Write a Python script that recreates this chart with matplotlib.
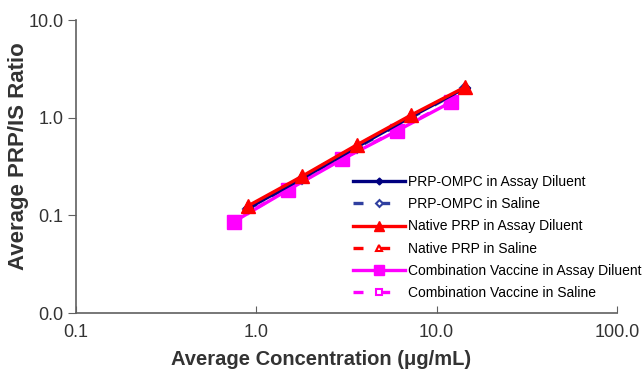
import matplotlib
matplotlib.use("Agg")
import matplotlib.pyplot as plt
from matplotlib.ticker import FixedLocator, FixedFormatter, NullLocator

plt.rcParams['font.family'] = ['Liberation Sans', 'DejaVu Sans']

# Data
ompc_x = [0.9, 1.8, 3.6, 7.2, 14.4]
ompc_diluent = [0.118, 0.240, 0.50, 1.02, 2.02]
ompc_saline = [0.116, 0.236, 0.49, 1.00, 2.00]

native_x = [0.9, 1.8, 3.6, 7.2, 14.4]
native_diluent = [0.125, 0.252, 0.525, 1.06, 2.06]
native_saline = [0.122, 0.248, 0.515, 1.04, 2.03]

combo_x = [0.75, 1.5, 3.0, 6.0, 12.0]
combo_diluent = [0.086, 0.182, 0.375, 0.73, 1.44]
combo_saline = [0.087, 0.184, 0.38, 0.74, 1.46]

x_ticks = [0.1, 1.0, 10.0, 100.0]
x_tick_labels = ["0.1", "1.0", "10.0", "100.0"]
y_ticks = [0.01, 0.1, 1.0, 10.0]
y_tick_labels = ["0.0", "0.1", "1.0", "10.0"]

navy = "#000080"
red = "#FF0000"
mag = "#FF00FF"

fig = plt.figure(figsize=(6.43, 3.71), dpi=100)
ax = fig.add_axes([76/643, 1 - 313/371, (617-76)/643, (313-20)/371])

lw = 2.4
dash = (0, (3, 5))
# saline series (dashed, open markers)
ax.plot(ompc_x, ompc_saline, ls=dash, color="#3040A0", lw=lw, marker='D',
        ms=5, mfc='white', mec="#3040A0", mew=1.5, label="PRP-OMPC in Saline", zorder=2)
ax.plot(native_x, native_saline, ls=dash, color=red, lw=lw, marker='^',
        ms=7, mfc='white', mec=red, mew=1.5, label="Native PRP in Saline", zorder=2)
ax.plot(combo_x, combo_saline, ls=dash, color=mag, lw=lw, marker='s',
        ms=7, mfc='white', mec=mag, mew=1.5, label="Combination Vaccine in Saline", zorder=2)

# assay diluent series (solid, filled markers)
ax.plot(ompc_x, ompc_diluent, '-', color=navy, lw=lw, marker='D', ms=5,
        label="PRP-OMPC in Assay Diluent", zorder=4)
ax.plot(native_x, native_diluent, '-', color=red, lw=lw, marker='^', ms=10,
        label="Native PRP in Assay Diluent", zorder=5)
ax.plot(combo_x, combo_diluent, '-', color=mag, lw=lw, marker='s', ms=10,
        label="Combination Vaccine in Assay Diluent", zorder=3)

ax.set_xscale('log')
ax.set_yscale('log')
ax.set_xlim(0.1, 100)
ax.set_ylim(0.01, 10)
ax.xaxis.set_major_locator(FixedLocator(x_ticks))
ax.xaxis.set_major_formatter(FixedFormatter(x_tick_labels))
ax.yaxis.set_major_locator(FixedLocator(y_ticks))
ax.yaxis.set_major_formatter(FixedFormatter(y_tick_labels))
ax.xaxis.set_minor_locator(NullLocator())
ax.yaxis.set_minor_locator(NullLocator())

for s in ['top', 'right']:
    ax.spines[s].set_visible(False)
for s in ['left', 'bottom']:
    ax.spines[s].set_color("#606060")
    ax.spines[s].set_linewidth(1.2)
ax.tick_params(axis='x', direction='in', length=5, color="#606060", labelsize=13,
               labelcolor="#333333", pad=8)
ax.tick_params(axis='y', direction='out', length=6, color="#606060", labelsize=13,
               labelcolor="#333333", pad=3)

ax.set_xlabel("Average Concentration (\u03bcg/mL)", fontsize=14.5, fontweight='bold',
              color="#333333")
ax.set_ylabel("Average PRP/IS Ratio", fontsize=16, fontweight='bold',
              color="#333333")
ax.xaxis.set_label_coords((321 - 76) / 541, -(350 - 313) / 293)
ax.yaxis.set_label_coords(-(76 - 29) / 541, (313 - 156) / 293)

handles, labels = ax.get_legend_handles_labels()
order = [3, 0, 4, 1, 5, 2]
fig.legend([handles[i] for i in order], [labels[i] for i in order],
           loc='upper left', bbox_to_anchor=(353/643, 1 - 175/371),
           frameon=False, fontsize=10, handlelength=3.75, handletextpad=0.2,
           labelspacing=0.59, borderpad=0.0, borderaxespad=0, markerscale=0.7)

fig.savefig("out.png", dpi=100)
